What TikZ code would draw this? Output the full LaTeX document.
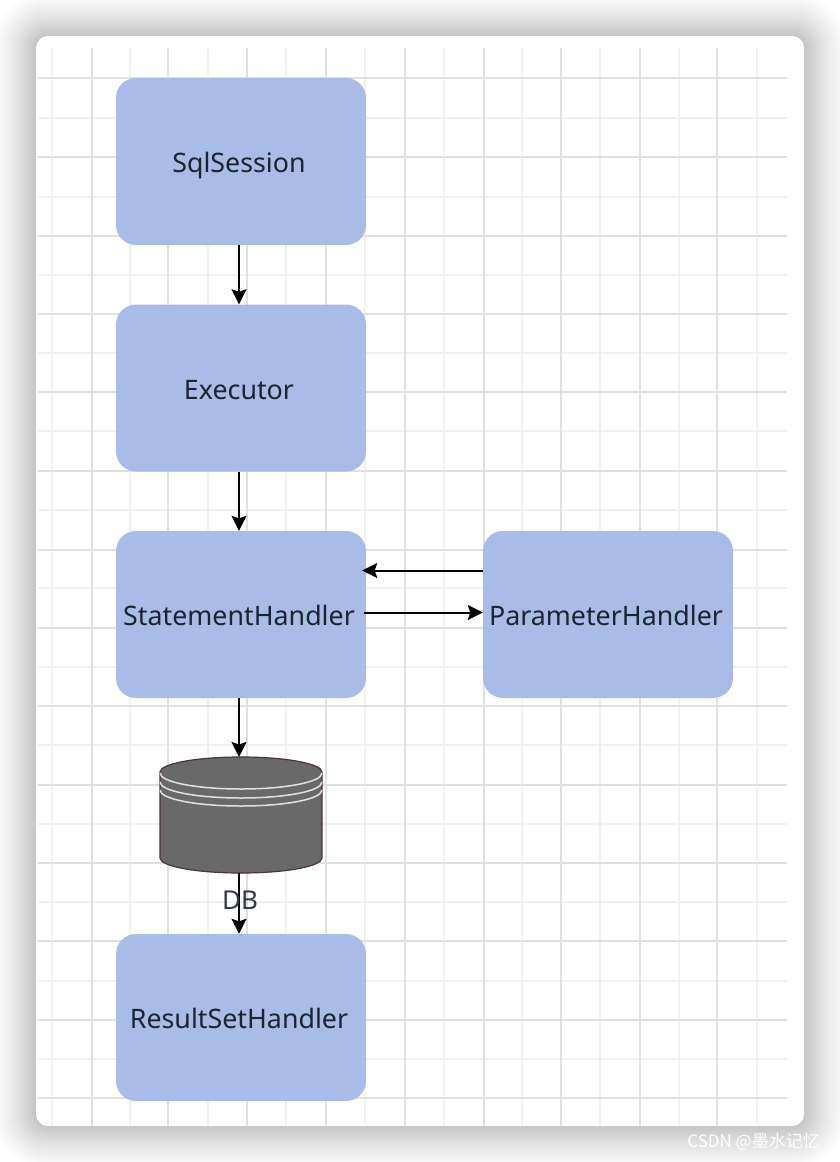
\documentclass[tikz,border=0pt]{standalone}
\usepackage{fontspec}
\setmainfont{Noto Sans}
\newfontfamily\cjkmark{Noto Sans CJK SC}
\usetikzlibrary{arrows.meta}
\definecolor{boxblue}{HTML}{A9BCE8}
\definecolor{dbgray}{HTML}{696969}
\definecolor{dbedge}{HTML}{4A3530}
\definecolor{gridstrong}{HTML}{E0E0E0}
\definecolor{gridlight}{HTML}{F1F1F1}
\definecolor{inktext}{HTML}{1C2430}
\tikzset{
	flowbox/.style={fill=boxblue, rounded corners=20pt, minimum width=250pt, minimum height=167pt, text=inktext, font=\fontsize{26.8}{30}\selectfont, inner sep=0pt, text height=25pt, text depth=3pt, execute at begin node=\hspace*{-4pt}},
	flowarrow/.style={-{Stealth[length=15pt,width=15pt,inset=2.5pt]}, line width=2pt, black},
	gridmajor/.style={gridstrong, line width=2.4pt},
	gridminor/.style={gridlight, line width=2.2pt},
	dbarc/.style={draw=white!80!dbgray, line width=1.5pt}
}
\begin{document}
\begin{tikzpicture}[x=1pt,y=-1pt]
	\useasboundingbox (0,0) rectangle (840,1162);

	% shadow and card
	\foreach \s in {46,45,...,1} {
		\pgfmathsetmacro{\shade}{23*(1-\s/47)^1.4}
		\fill[black!\shade!white, rounded corners=12pt+\s*1pt] (36-\s,36-\s) rectangle (804+\s,1126+\s);
	}
	\fill[white, rounded corners=12pt] (36,36) rectangle (804,1126);

	% grid
	\foreach \x in {52,130,208,286,365,444,522,600,679,757}
		\draw[gridminor] (\x,48) -- (\x,1126);
	\foreach \y in {118,197,275,353,431,510,588,667,745,824,902,981,1059}
		\draw[gridminor] (38,\y) -- (787,\y);
	\foreach \x in {92,168,247,326,405,484,561,640,717}
		\draw[gridmajor] (\x,48) -- (\x,1126);
	\foreach \y in {78,157,236,314,392,471,550,628,706,785,863,941,1020,1098}
		\draw[gridmajor] (38,\y) -- (787,\y);

	% boxes
	\node[flowbox] (sqlsession) at (241,161.5) {SqlSession};
	\node[flowbox] (executor) at (241,388) {Executor};
	\node[flowbox] (statement) at (241,614.5) {StatementHandler};
	\node[flowbox] (parameter) at (608,614.5) {ParameterHandler};
	\node[flowbox] (resultset) at (241,1017.5) {ResultSetHandler};

	% database
	\node[minimum width=162pt, minimum height=116pt, inner sep=0pt, outer sep=0pt] (db) at (241,815) {};
	\filldraw[draw=dbedge, fill=dbgray, line width=1.2pt] (160,772) .. controls (160,763.7) and (196,757) .. (241,757) .. controls (286,757) and (322,763.7) .. (322,772) -- (322,858) .. controls (322,866.3) and (286,873) .. (241,873) .. controls (196,873) and (160,866.3) .. (160,858) -- cycle;
	\foreach \d in {0,9,17}
		\draw[dbarc] (160,773+\d) .. controls (160,782+\d) and (196,789+\d) .. (241,789+\d) .. controls (286,789+\d) and (322,782+\d) .. (322,773+\d);

	% arrows
	\draw[flowarrow] ([xshift=-2pt]sqlsession.south) -- ([xshift=-2pt]executor.north);
	\draw[flowarrow] ([xshift=-2pt]executor.south) -- ([xshift=-2pt]statement.north);
	\draw[flowarrow] ([xshift=-2pt]statement.south) -- ([xshift=-2pt]db.north);
	\draw[flowarrow] ([xshift=-2pt]db.south) -- ([xshift=-2pt]resultset.north);
	\draw[flowarrow] ([yshift=44pt]parameter.west) -- ([xshift=-4pt,yshift=44pt]statement.east);
	\draw[flowarrow] ([xshift=-2pt,yshift=2pt]statement.east) -- ([yshift=2pt]parameter.west);

	% labels
	\node[text=inktext!90!white, font=\fontsize{26}{30}\selectfont, inner sep=0pt] (dblabel) at (240,900) {DB};
	\node[text=white, font=\cjkmark\fontsize{17}{20}\selectfont, inner sep=0pt, anchor=east] (watermark) at (820,1142) {CSDN @墨水记忆};

\end{tikzpicture}
\end{document}
